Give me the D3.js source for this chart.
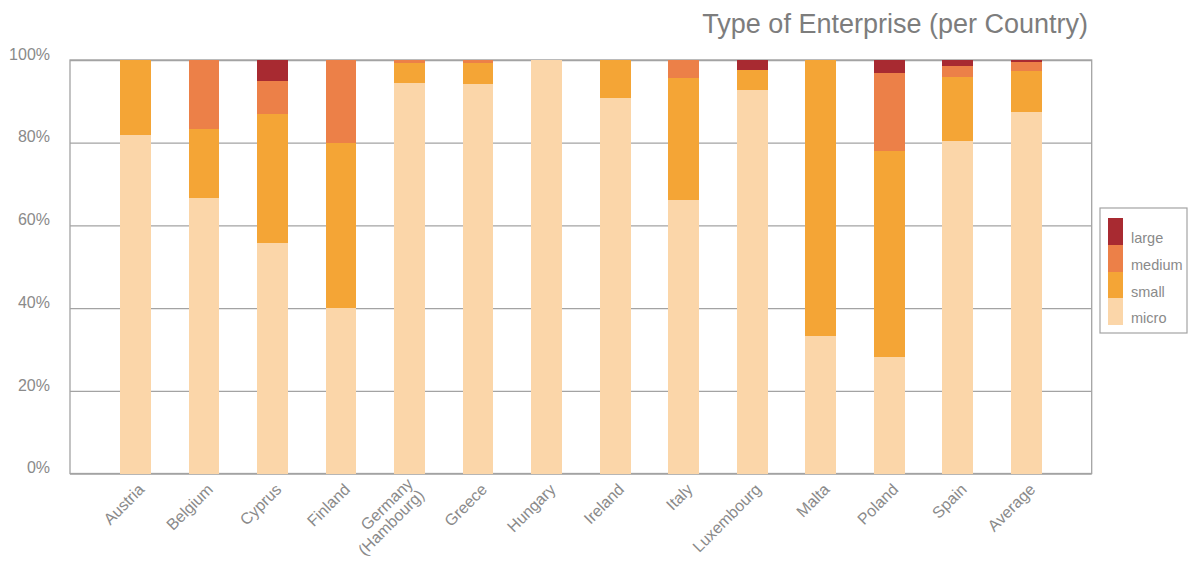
<!DOCTYPE html>
<html>
<head>
<meta charset="utf-8">
<script src="https://cdn.jsdelivr.net/npm/d3@7"></script>
<style>
  html, body { margin: 0; padding: 0; background: #fff; }
  svg { display: block; }
  text { font-family: "Liberation Sans", Arial, sans-serif; fill: #8a8a8a; }
</style>
</head>
<body>
<svg id="chart" width="1192" height="561"></svg>
<script>
// Share of enterprise types (in %) per country
const categories = ["Austria", "Belgium", "Cyprus", "Finland", "Germany (Hambourg)", "Greece",
  "Hungary", "Ireland", "Italy", "Luxembourg", "Malta", "Poland", "Spain", "Average"];
const micro  = [81.8, 66.7, 55.8, 40.0, 94.4, 94.2, 100, 90.9, 66.1, 92.7, 33.3, 28.1, 80.4, 87.4];
const small  = [18.2, 16.7, 31.1, 40.0,  4.9,  5.1,   0,  9.1, 29.5,  4.9, 66.7, 50.0, 15.5,  9.9];
const medium = [ 0.0, 16.6,  8.0, 20.0,  0.7,  0.7,   0,  0.0,  4.4,  0.0,  0.0, 18.8,  2.6,  2.2];
const large  = [ 0.0,  0.0,  5.1,  0.0,  0.0,  0.0,   0,  0.0,  0.0,  2.4,  0.0,  3.1,  1.5,  0.5];
const seriesNames = ["micro", "small", "medium", "large"];
const yTicks = [0, 20, 40, 60, 80, 100];
const titleText = "Type of Enterprise (per Country)";

const colors = { micro: "#fbd6a9", small: "#f4a536", medium: "#ec8048", large: "#a82a31" };

const rows = categories.map((c, i) => ({
  category: c, micro: micro[i], small: small[i], medium: medium[i], large: large[i]
}));

const svg = d3.select("#chart");
const m = { left: 70, right: 100.3, top: 60, bottom: 87.5 };
const W = 1192 - m.left - m.right;
const H = 561 - m.top - m.bottom;
const g = svg.append("g").attr("transform", `translate(${m.left},${m.top})`);

const x = d3.scaleBand().domain(categories).range([0, W]).paddingInner(0.55).paddingOuter(0.73);
const y = d3.scaleLinear().domain([0, 100]).range([H, 0]);

// gridlines and tick labels
const yAxis = g.append("g")
  .call(d3.axisLeft(y).tickValues(yTicks).tickSize(-W).tickFormat(d => d + "%"));
yAxis.select(".domain").remove();
yAxis.selectAll(".tick line").attr("stroke", "#a3a3a3").attr("stroke-width", 1.3);
yAxis.selectAll(".tick text")
  .attr("x", -20).attr("dy", "-0.05em")
  .style("font-size", "16px").style("fill", "#8a8a8a");

// plot frame
g.append("rect").attr("x", 0).attr("y", 0).attr("width", W).attr("height", H)
  .attr("fill", "none").attr("stroke", "#a3a3a3").attr("stroke-width", 1.3);

// stacked bars
const stack = d3.stack().keys(seriesNames)(rows);
g.selectAll("g.layer").data(stack).join("g")
  .attr("class", "layer")
  .attr("fill", d => colors[d.key])
  .selectAll("rect").data(d => d).join("rect")
  .attr("x", d => x(d.data.category))
  .attr("width", x.bandwidth())
  .attr("y", d => y(d[1]))
  .attr("height", d => Math.max(0, y(d[0]) - y(d[1])))
  .attr("shape-rendering", "crispEdges");

// category labels, rotated
const lab = g.append("g").selectAll("text").data(categories).join("text")
  .attr("transform", d => `translate(${x(d) + x.bandwidth() / 2 + 6},${H + 13}) rotate(-45)`)
  .attr("text-anchor", "end")
  .style("font-size", "16px");
lab.each(function (d) {
  const parts = d.split(" ");
  const t = d3.select(this);
  if (parts.length > 1) {
    parts.forEach((p, i) => t.append("tspan").attr("x", 0)
      .attr("dy", i === 0 ? "-0.15em" : "1.0em").text(p));
  } else {
    t.append("tspan").attr("x", 0).attr("dy", "0.35em").text(d);
  }
});

// title
svg.append("text")
  .attr("x", 1088).attr("y", 33)
  .attr("text-anchor", "end")
  .style("font-size", "27px").style("fill", "#7d7d7d")
  .text(titleText);

// legend
const lg = svg.append("g").attr("transform", "translate(1100,208)");
lg.append("rect").attr("width", 87).attr("height", 125)
  .attr("fill", "#fff").attr("stroke", "#a3a3a3").attr("stroke-width", 1.2);
const legendOrder = seriesNames.slice().reverse();
legendOrder.forEach((k, i) => {
  lg.append("rect").attr("x", 8).attr("y", 10 + i * 26.8)
    .attr("width", 15).attr("height", 26.8).attr("fill", colors[k])
    .attr("shape-rendering", "crispEdges");
  lg.append("text").attr("x", 31).attr("y", 10 + i * 26.8 + 25)
    .style("font-size", "14.5px").text(k);
});
</script>
</body>
</html>
